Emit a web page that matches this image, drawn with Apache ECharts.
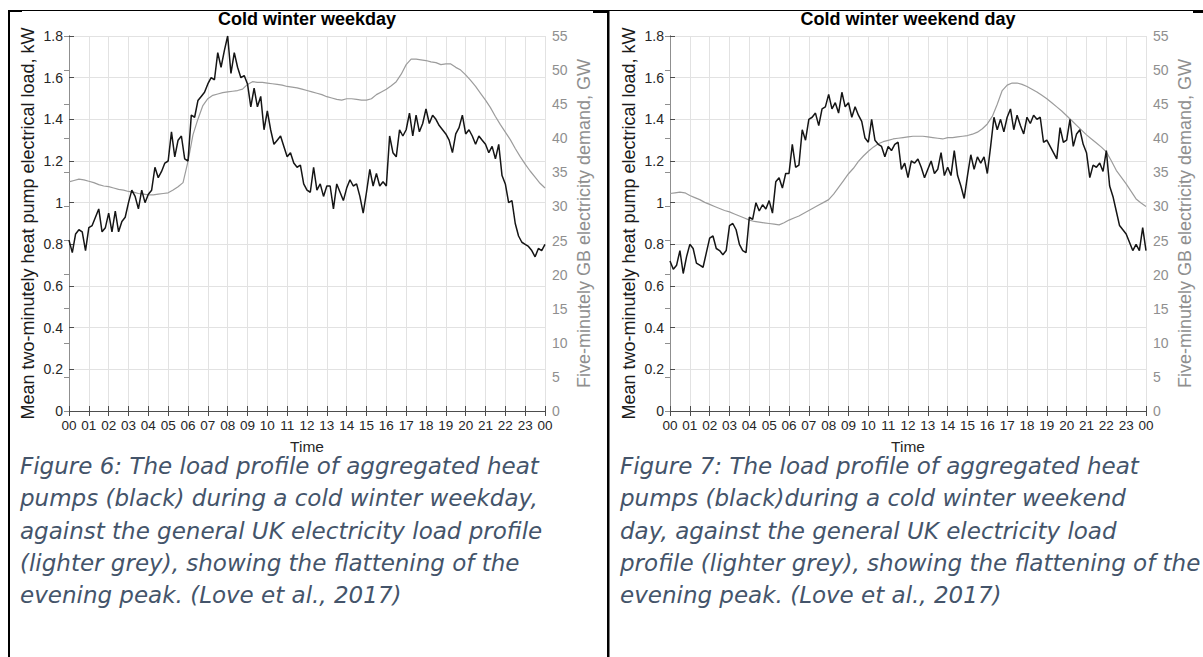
<!DOCTYPE html>
<html>
<head>
<meta charset="utf-8">
<title>Heat pump load profiles against GB demand</title>
<script src="https://cdn.jsdelivr.net/npm/echarts@6/dist/echarts.min.js"></script>
<style>
  html, body { margin: 0; padding: 0; background: #ffffff; }
  #chart { width: 1203px; height: 657px; }
</style>
</head>
<body>
<div id="chart"></div>
<script>
// Hour tick labels along the time axis (00:00 to the following 00:00)
const hourLabels = ['00','01','02','03','04','05','06','07','08','09','10','11',
                    '12','13','14','15','16','17','18','19','20','21','22','23','00'];

// Mean heat pump electrical load (kW), one value every 10 minutes, weekday
const weekdayHeatPumpKw = [
  0.82, 0.76, 0.85, 0.87, 0.86, 0.77,
  0.88, 0.89, 0.93, 0.97, 0.86, 0.88,
  0.95, 0.86, 0.96, 0.86, 0.91, 0.93,
  1.00, 1.06, 1.03, 0.97, 1.06, 1.00,
  1.04, 1.06, 1.17, 1.12, 1.15, 1.19,
  1.20, 1.34, 1.22, 1.30, 1.32, 1.21,
  1.20, 1.42, 1.41, 1.49, 1.51, 1.53,
  1.57, 1.60, 1.59, 1.72, 1.65, 1.73,
  1.80, 1.62, 1.72, 1.65, 1.60, 1.61,
  1.57, 1.46, 1.55, 1.46, 1.51, 1.35,
  1.44, 1.35, 1.28, 1.30, 1.32, 1.27,
  1.22, 1.24, 1.19, 1.17, 1.18, 1.09,
  1.06, 1.05, 1.17, 1.06, 1.09, 1.03,
  1.08, 1.08, 0.97, 1.09, 1.05, 1.01,
  1.07, 1.11, 1.08, 1.09, 1.03, 0.95,
  1.05, 1.16, 1.08, 1.14, 1.08, 1.10,
  1.08, 1.32, 1.24, 1.22, 1.35, 1.32,
  1.35, 1.43, 1.32, 1.42, 1.34, 1.38,
  1.45, 1.38, 1.42, 1.40, 1.37, 1.35,
  1.33, 1.30, 1.24, 1.33, 1.36, 1.42,
  1.33, 1.35, 1.32, 1.28, 1.32, 1.30,
  1.28, 1.24, 1.27, 1.21, 1.28, 1.13,
  1.09, 1.00, 1.01, 0.90, 0.84, 0.81,
  0.80, 0.79, 0.77, 0.74, 0.78, 0.77,
  0.80
];

// Mean heat pump electrical load (kW), one value every 10 minutes, weekend day
const weekendHeatPumpKw = [
  0.72, 0.68, 0.70, 0.77, 0.66, 0.74,
  0.80, 0.78, 0.71, 0.70, 0.69, 0.76,
  0.83, 0.84, 0.78, 0.77, 0.75, 0.77,
  0.89, 0.90, 0.87, 0.80, 0.77, 0.76,
  0.93, 0.92, 1.00, 0.96, 0.99, 0.97,
  1.01, 0.95, 1.10, 1.12, 1.07, 1.14,
  1.14, 1.28, 1.17, 1.18, 1.35, 1.30,
  1.40, 1.41, 1.43, 1.37, 1.45, 1.46,
  1.52, 1.45, 1.48, 1.43, 1.53, 1.46,
  1.48, 1.41, 1.46, 1.42, 1.39, 1.31,
  1.29, 1.40, 1.30, 1.28, 1.27, 1.22,
  1.27, 1.25, 1.28, 1.29, 1.16, 1.19,
  1.12, 1.20, 1.19, 1.21, 1.17, 1.12,
  1.16, 1.20, 1.14, 1.16, 1.24, 1.13,
  1.17, 1.13, 1.25, 1.13, 1.08, 1.02,
  1.13, 1.23, 1.16, 1.22, 1.19, 1.22,
  1.14, 1.27, 1.41, 1.35, 1.40, 1.34,
  1.41, 1.45, 1.35, 1.42, 1.37, 1.33,
  1.41, 1.38, 1.42, 1.40, 1.41, 1.29,
  1.30, 1.27, 1.24, 1.21, 1.36, 1.29,
  1.30, 1.40, 1.27, 1.33, 1.35, 1.28,
  1.24, 1.12, 1.18, 1.17, 1.19, 1.15,
  1.25, 1.08, 1.03, 0.96, 0.89, 0.87,
  0.85, 0.81, 0.77, 0.80, 0.77, 0.88,
  0.77
];

// GB electricity demand (GW), one value every 15 minutes, weekday
const weekdayGridGw = [
  33.6, 33.8, 34.0, 33.9, 33.7, 33.5, 33.2, 33.0,
  32.9, 32.7, 32.5, 32.4, 32.2, 32.1, 31.9, 31.8,
  31.7, 31.7, 31.8, 31.9, 32.0, 32.4, 32.9, 33.5,
  36.6, 40.5, 42.8, 44.8, 45.8, 46.3, 46.5, 46.7,
  46.8, 46.9, 47.0, 47.2, 47.9, 48.3, 48.2, 48.2,
  48.1, 48.0, 47.9, 47.8, 47.6, 47.5, 47.4, 47.2,
  47.0, 46.8, 46.6, 46.4, 46.1, 45.9, 45.7, 45.6,
  45.8, 45.8, 45.7, 45.6, 45.6, 45.8, 46.4, 46.8,
  47.2, 47.7, 48.3, 49.4, 50.8, 51.6, 51.6, 51.5,
  51.4, 51.2, 51.1, 50.8, 50.9, 50.9, 50.4, 50.0,
  49.3, 48.5, 47.6, 46.6, 45.6, 44.5, 43.2, 42.0,
  40.9, 39.8, 38.5, 37.3, 36.2, 35.2, 34.3, 33.4,
  32.7
];

// GB electricity demand (GW), one value every 15 minutes, weekend day
const weekendGridGw = [
  31.9, 32.0, 32.1, 32.0, 31.6, 31.3, 31.0, 30.6,
  30.3, 30.0, 29.7, 29.4, 29.2, 28.9, 28.6, 28.3,
  28.0, 27.8, 27.7, 27.6, 27.5, 27.4, 27.3, 27.6,
  28.0, 28.3, 28.6, 29.0, 29.4, 29.8, 30.2, 30.6,
  31.0, 31.8, 32.8, 33.8, 34.8, 35.6, 36.6, 37.4,
  38.1, 38.7, 39.2, 39.5, 39.7, 39.9, 40.0, 40.1,
  40.2, 40.3, 40.3, 40.3, 40.2, 40.1, 40.0, 39.9,
  40.1, 40.1, 40.2, 40.3, 40.4, 40.6, 40.9, 41.4,
  42.1, 43.2, 45.0, 47.0, 47.8, 48.1, 48.1, 47.9,
  47.6, 47.2, 46.8, 46.3, 45.8, 45.2, 44.6, 44.0,
  43.3, 42.6, 41.9, 41.2, 40.5, 39.9, 39.3, 38.7,
  38.0, 36.7, 35.3, 34.3, 33.3, 32.2, 31.1, 30.5,
  30.0
];

const HEAT_PUMP_STEP_MIN = 10;
const GRID_STEP_MIN = 15;

const captionWeekday = [
  'Figure 6: The load profile of aggregated heat',
  'pumps (black) during a cold winter weekday,',
  'against the general UK electricity load profile',
  '(lighter grey), showing the flattening of the',
  'evening peak. (Love et al., 2017)'
];
const captionWeekend = [
  'Figure 7: The load profile of aggregated heat',
  'pumps (black)during a cold winter weekend',
  'day, against the general UK electricity load',
  'profile (lighter grey), showing the flattening of the',
  'evening peak. (Love et al., 2017)'
];

// Pair each sample with its time of day in hours
function toHours(values, stepMin) {
  return values.map((v, i) => [i * stepMin / 60, v]);
}

const SANS = '"Liberation Sans", Arial, Helvetica, sans-serif';
const AXIS_DARK = '#4d4d4d';
const AXIS_GREY = '#8f8f8f';
const GRID_LINE = '#e2e2e2';
const PLOT_TOP = 36, PLOT_W = 476, PLOT_H = 375;
const CAPTION_FIRST_Y = 466, CAPTION_STEP = 32.3;

const panels = [
  { title: 'Cold winter weekday', left: 69, hp: weekdayHeatPumpKw, gb: weekdayGridGw,
    caption: captionWeekday, captionX: 20 },
  { title: 'Cold winter weekend day', left: 670, hp: weekendHeatPumpKw, gb: weekendGridGw,
    caption: captionWeekend, captionX: 620 }
];

const grid = [], xAxis = [], yAxis = [], series = [], graphic = [];

panels.forEach((p, k) => {
  grid.push({ left: p.left, top: PLOT_TOP, width: PLOT_W, height: PLOT_H, show: false });

  // bottom time axis
  xAxis.push({
    type: 'value', gridIndex: k, min: 0, max: 24, interval: 1, position: 'bottom',
    axisLine: { show: true, lineStyle: { color: AXIS_DARK, width: 1 } },
    axisTick: { show: true, inside: true, length: 5, lineStyle: { color: AXIS_DARK } },
    axisLabel: { show: true, fontFamily: SANS, fontSize: 13.5, color: '#262626', margin: 7,
                 formatter: v => hourLabels[Math.round(v)] },
    splitLine: { show: true, lineStyle: { color: GRID_LINE, width: 1 } },
    name: 'Time', nameLocation: 'middle', nameGap: 27,
    nameTextStyle: { fontFamily: SANS, fontSize: 15.5, color: '#262626', lineHeight: 16 }
  });
  // top edge of the box, ticks only
  xAxis.push({
    type: 'value', gridIndex: k, min: 0, max: 24, interval: 1, position: 'top',
    axisLine: { show: true, lineStyle: { color: AXIS_DARK, width: 1 } },
    axisTick: { show: true, inside: true, length: 5, lineStyle: { color: AXIS_DARK } },
    axisLabel: { show: false }, splitLine: { show: false }
  });

  // left: heat pump load (kW)
  yAxis.push({
    type: 'value', gridIndex: k, min: 0, max: 1.8, interval: 0.2, position: 'left',
    axisLine: { show: true, lineStyle: { color: AXIS_DARK, width: 1 } },
    axisTick: { show: true, inside: true, length: 5, lineStyle: { color: AXIS_DARK } },
    axisLabel: { fontFamily: SANS, fontSize: 14, color: '#262626', margin: 6,
                 formatter: v => String(+v.toFixed(1)) },
    splitLine: { show: true, lineStyle: { color: GRID_LINE, width: 1 } },
    name: 'Mean two-minutely heat pump electrical load, kW',
    nameLocation: 'middle', nameRotate: 90, nameGap: 32,
    nameTextStyle: { fontFamily: SANS, fontSize: 18, color: '#1a1a1a' }
  });
  // right: GB demand (GW)
  yAxis.push({
    type: 'value', gridIndex: k, min: 0, max: 55, interval: 5, position: 'right',
    axisLine: { show: true, lineStyle: { color: AXIS_GREY, width: 1 } },
    axisTick: { show: true, inside: true, length: 5, lineStyle: { color: AXIS_GREY } },
    axisLabel: { fontFamily: SANS, fontSize: 14, color: AXIS_GREY, margin: 7 },
    splitLine: { show: false },
    name: 'Five-minutely GB electricity demand, GW',
    nameLocation: 'middle', nameRotate: 90, nameGap: 30,
    nameTextStyle: { fontFamily: SANS, fontSize: 18, color: AXIS_GREY }
  });

  series.push({
    type: 'line', name: 'GB demand', xAxisIndex: 2 * k, yAxisIndex: 2 * k + 1,
    data: toHours(p.gb, GRID_STEP_MIN), showSymbol: false, silent: true,
    lineStyle: { color: '#9c9c9c', width: 1.2 }, z: 2
  });
  series.push({
    type: 'line', name: 'Heat pumps', xAxisIndex: 2 * k, yAxisIndex: 2 * k,
    data: toHours(p.hp, HEAT_PUMP_STEP_MIN), showSymbol: false, silent: true,
    lineStyle: { color: '#151515', width: 1.5 }, z: 3
  });

  // panel title
  graphic.push({
    type: 'text', x: p.left + PLOT_W / 2, y: 19,
    style: { text: p.title, fill: '#000', font: 'bold 18px ' + SANS,
             textAlign: 'center', textVerticalAlign: 'middle', align: 'center', verticalAlign: 'middle' }
  });
  // figure caption, one text per line
  p.caption.forEach((line, i) => {
    graphic.push({
      type: 'text', x: p.captionX, y: CAPTION_FIRST_Y + i * CAPTION_STEP,
      style: { text: line, fill: '#44546A',
               font: 'italic 23px "DejaVu Sans", sans-serif', lineHeight: 20,
               textAlign: 'left', textVerticalAlign: 'middle', align: 'left', verticalAlign: 'middle' }
    });
  });
});

// table rules framing the two figures
const rules = [
  { x: 8, y: 10, width: 1195, height: 1 },
  { x: 8, y: 10, width: 14, height: 2 },
  { x: 593, y: 10, width: 15, height: 3 },
  { x: 1193, y: 10, width: 10, height: 3 },
  { x: 8, y: 10, width: 2, height: 647 },
  { x: 607, y: 10, width: 2.5, height: 647 }
];
rules.forEach(r => graphic.push({ type: 'rect', shape: r, style: { fill: '#000' }, silent: true }));

const chart = echarts.init(document.getElementById('chart'), null, { renderer: 'svg' });
chart.setOption({
  animation: false,
  backgroundColor: '#ffffff',
  grid, xAxis, yAxis, series, graphic
});
</script>
</body>
</html>
